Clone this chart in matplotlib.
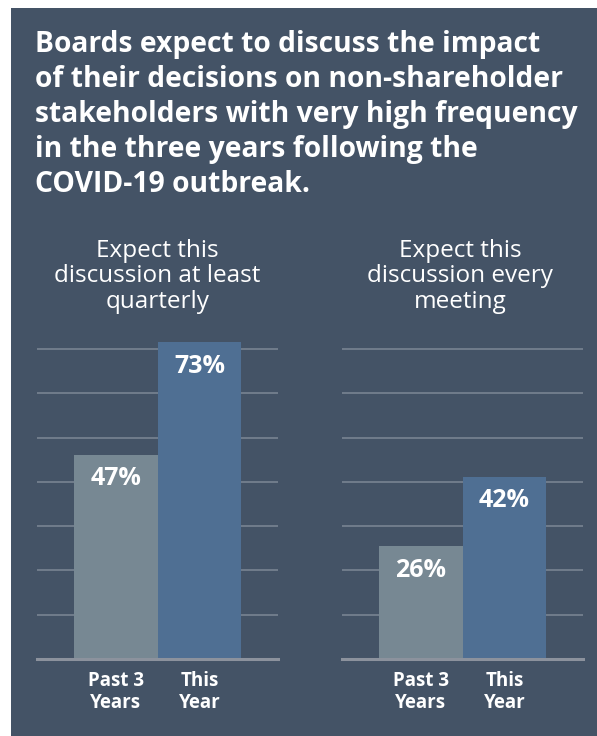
import matplotlib.pyplot as plt
from matplotlib.patches import Rectangle
import numpy as np

plt.rcParams['font.family'] = ['Open Sans', 'DejaVu Sans']

# survey values (%)
categories = ['Past 3\nYears', 'This\nYear']
quarterly = [47, 73]
every_meeting = [26, 42]
panel_titles = ['Expect this\ndiscussion at least\nquarterly',
                'Expect this\ndiscussion every\nmeeting']
headline = ('Boards expect to discuss the impact\n'
            'of their decisions on non-shareholder\n'
            'stakeholders with very high frequency\n'
            'in the three years following the\n'
            'COVID-19 outbreak.')

BG = '#445366'
GRID = '#7d8896'
BASE = '#8c929d'
BAR_COLORS = ['#778893', '#4f6f93']

W, H = 597, 736
fig = plt.figure(figsize=(W / 100, H / 100), dpi=100)
fig.patch.set_facecolor('white')
fig.add_artist(Rectangle((11 / W, 0), (W - 11) / W, (H - 8) / H,
                         transform=fig.transFigure, facecolor=BG,
                         edgecolor='none', zorder=0))

fig.text(35 / W, 1 - 30 / H, headline, color='white', fontsize=20.3,
         fontweight='bold', ha='left', va='top', linespacing=1.27)

px_per_pct = 4.34
base_y = 659
top_y = 330
ymax = (base_y - top_y) / px_per_pct


def draw_panel(left_px, values, title, title_x):
    ax = fig.add_axes([left_px / W, (H - base_y) / H, 241 / W,
                       (base_y - top_y) / H])
    ax.set_facecolor('none')
    ax.set_xlim(-0.946, 1.94)
    ax.set_ylim(0, ymax)
    for g in np.arange(1, 8) * 10.2:
        ax.axhline(g, color=GRID, lw=1.1, zorder=1)
    x = np.arange(len(values))
    ax.bar(x, values, width=1.0, color=BAR_COLORS, zorder=2)
    ax.axhline(0, color=BASE, lw=2.2, zorder=3, clip_on=False)
    for xi, v in zip(x, values):
        ax.text(xi, v - 5.5, f'{v}%', color='white', fontsize=18,
                fontweight='bold', ha='center', va='center', zorder=4)
    ax.set_xticks(x)
    ax.set_xticklabels(categories, color='white', fontsize=13.5,
                       fontweight='bold', linespacing=1.12)
    ax.tick_params(axis='x', length=0, pad=9)
    ax.set_yticks([])
    for s in ax.spines.values():
        s.set_visible(False)
    fig.text(title_x / W, 1 - 239 / H, title, color='white', fontsize=17.5,
             ha='center', va='top', linespacing=1.08)


draw_panel(37, quarterly, panel_titles[0], 157.5)
draw_panel(342, every_meeting, panel_titles[1], 460)

fig.savefig('out.png', dpi=100)
